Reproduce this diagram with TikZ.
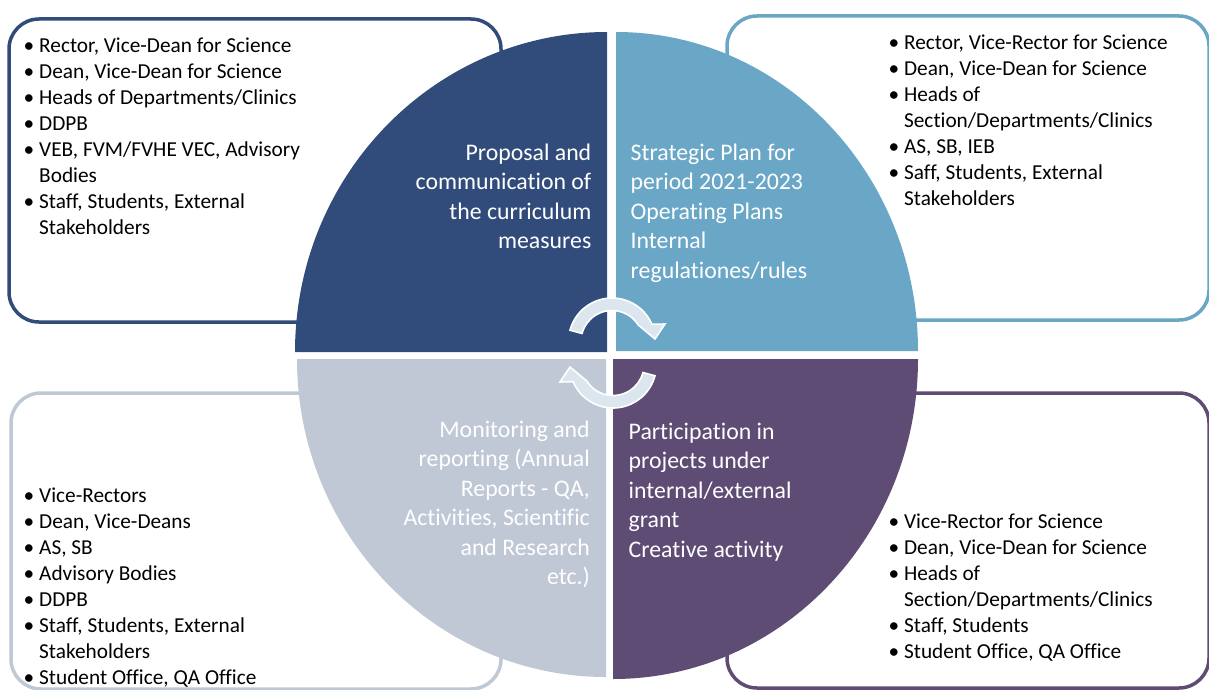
\documentclass[tikz,border=0pt]{standalone}
\usepackage{fontspec}
\setmainfont{Carlito}[Ligatures={NoCommon,NoContextual}, RawFeature={-calt;-liga}]
\usetikzlibrary{calc}
\definecolor{qdark}{RGB}{49,76,122}
\definecolor{qlight}{RGB}{106,167,199}
\definecolor{qgrey}{RGB}{192,200,214}
\definecolor{qpurple}{RGB}{94,76,116}
\definecolor{arrowfill}{RGB}{220,230,239}
\newcommand{\bu}{\makebox[15.5pt][l]{•}}
\newcommand{\cu}{\hspace*{15.5pt}}
\newcommand{\btext}[1]{\parbox[t]{330pt}{\raggedright\fontsize{21.3}{26}\selectfont #1}}
\newcommand{\qtextr}[1]{\parbox[t]{260pt}{\raggedleft\fontsize{23.8}{29.5}\selectfont #1}}
\newcommand{\qtextl}[1]{\parbox[t]{260pt}{\raggedright\fontsize{23.8}{29.5}\selectfont #1}}
\tikzset{
  infobox/.style={line width=3.5pt, rounded corners=30pt},
  btxt/.style={inner sep=0pt, anchor=base west, text=black},
  qtxtr/.style={inner sep=0pt, anchor=base east, text=white},
  qtxtl/.style={inner sep=0pt, anchor=base west, text=white},
  cyclearrow/.style={fill=arrowfill, draw=white, line width=1.6pt, line join=miter}
}
\begin{document}
\begin{tikzpicture}[x=1pt,y=-1pt]
\useasboundingbox (0,0) rectangle (1209,690);
\fill[white] (0,0) rectangle (1209,690);
% boxes
\draw[infobox, draw=qdark] (9,19) rectangle (501,322);
\draw[infobox, draw=qlight] (727,16) rectangle (1209,320);
\draw[infobox, draw=qgrey] (11,393) rectangle (501,689);
\draw[infobox, draw=qpurple] (727,393) rectangle (1209,688);
% quadrants
\fill[qdark] (607,352) -- (295,352) arc[start angle=180, end angle=270, x radius=312, y radius=320] -- cycle;
\fill[qlight] (616,351) -- (616,32) arc[start angle=270, end angle=360, x radius=302, y radius=319] -- cycle;
\fill[qpurple] (613,359) -- (918,359) arc[start angle=0, end angle=90, x radius=305, y radius=320] -- cycle;
\fill[qgrey] (606,359) -- (606,677) arc[start angle=90, end angle=180, x radius=309, y radius=318] -- cycle;
% cycle arrows
\begin{scope}[shift={(612.5,353)}]
  \begin{scope}[shift={(-0.5,-11.5)}]
  \path[cyclearrow] (195:43.5) arc[start angle=195, end angle=336.7, radius=43.5]
     -- (53,-17.5) -- (43,-2.5) -- (327.8:31)
     arc[start angle=327.8, end angle=195, radius=31] -- cycle;
  \end{scope}
  \begin{scope}[rotate=180, shift={(-0.5,-11.5)}]
  \path[cyclearrow] (195:43.5) arc[start angle=195, end angle=336.7, radius=43.5]
     -- (53,-17.5) -- (43,-2.5) -- (327.8:31)
     arc[start angle=327.8, end angle=195, radius=31] -- cycle;
  \end{scope}
\end{scope}
% quadrant texts
\node[qtxtr] (tlq) at (591.5,160) {\qtextr{Proposal and\\communication of\\the curriculum\\measures}};
\node[qtxtl] (trq) at (630.5,160) {\qtextl{Strategic Plan for\\period 2021-2023\\Operating Plans\\Internal\\regulationes/rules}};
\node[qtxtr] (blq) at (590,437) {\qtextr{Monitoring and\\reporting (Annual\\Reports - QA,\\Activities, Scientific\\and Research\\etc.)}};
\node[qtxtl] (brq) at (628.5,439) {\qtextl{Participation in\\projects under\\internal/external\\grant\\Creative activity}};
% box texts
\node[btxt] (tlb) at (23.5,53) {\btext{\bu Rector, Vice-Dean for Science\\\bu Dean, Vice-Dean for Science\\\bu Heads of Departments/Clinics\\\bu DDPB\\\bu VEB, FVM/FVHE VEC, Advisory\\\cu Bodies\\\bu Staff, Students, External\\\cu Stakeholders}};
\node[btxt] (trb) at (888.4,50) {\btext{\bu Rector, Vice-Rector for Science\\\bu Dean, Vice-Dean for Science\\\bu Heads of\\\cu Section/Departments/Clinics\\\bu AS, SB, IEB\\\bu Saff, Students, External\\\cu Stakeholders}};
\node[btxt] (blb) at (23.5,502) {\btext{\bu Vice-Rectors\\\bu Dean, Vice-Deans\\\bu AS, SB\\\bu Advisory Bodies\\\bu DDPB\\\bu Staff, Students, External\\\cu Stakeholders\\\bu Student Office, QA Office}};
\node[btxt] (brb) at (888.4,528) {\btext{\bu Vice-Rector for Science\\\bu Dean, Vice-Dean for Science\\\bu Heads of\\\cu Section/Departments/Clinics\\\bu Staff, Students\\\bu Student Office, QA Office}};
\end{tikzpicture}
\end{document}
